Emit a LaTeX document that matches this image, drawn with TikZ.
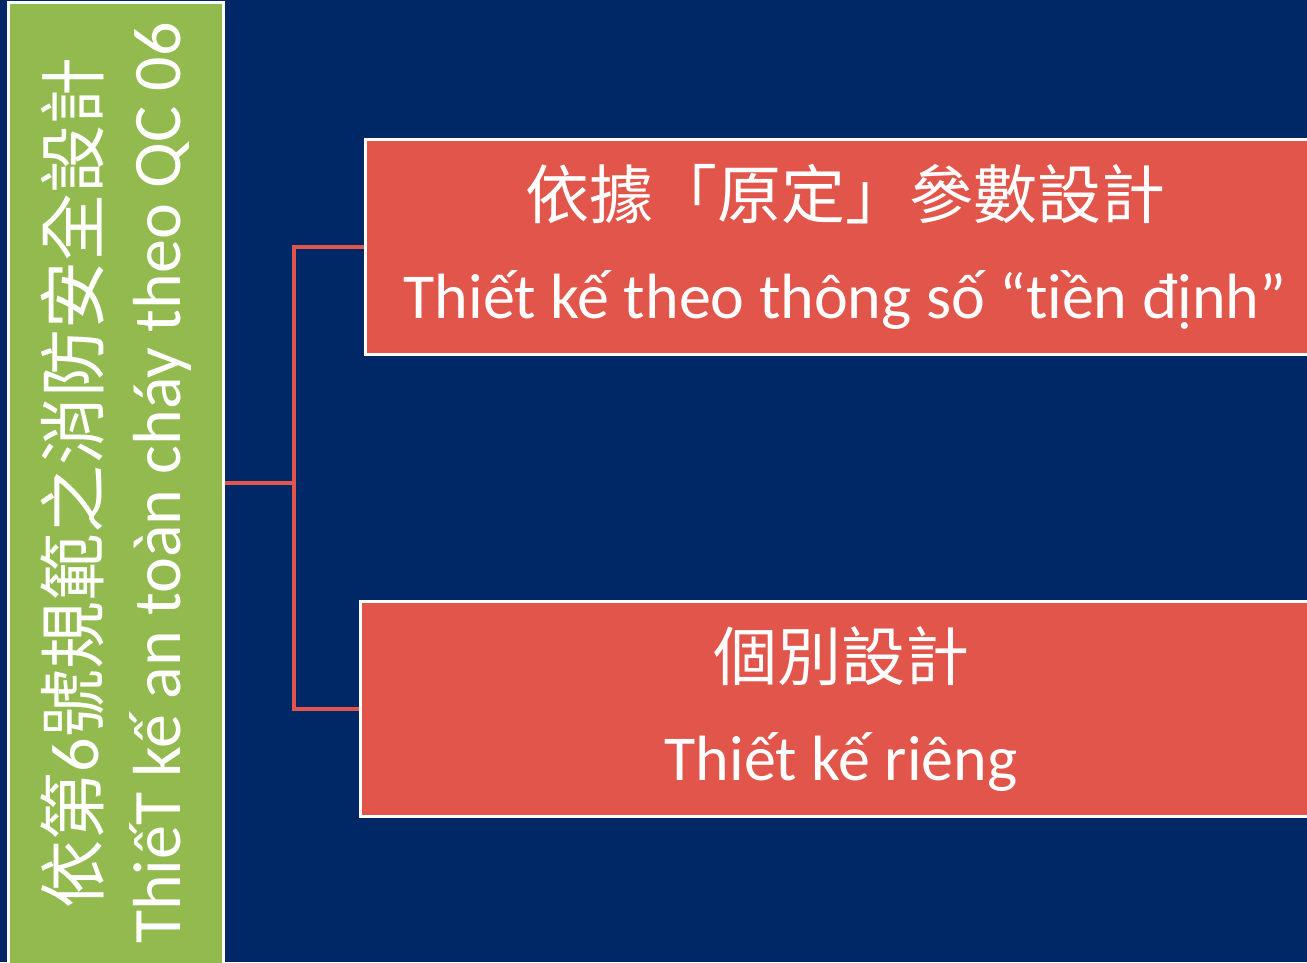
\documentclass[tikz,border=0pt]{standalone}
\usepackage{fontspec}
\setmainfont{Carlito}[Ligatures=NoCommon]
\newfontfamily\cjk{Noto Sans CJK TC}
\usetikzlibrary{positioning}
\definecolor{bgblue}{HTML}{002766}
\definecolor{leafgreen}{HTML}{92BA4E}
\definecolor{brickred}{HTML}{E2554A}

\begin{document}
\begin{tikzpicture}[x=1pt,y=-1pt,
	every node/.style={draw=white,line width=3pt,text=white,align=center,inner sep=0pt},
	sidebox/.style={fill=leafgreen,rotate=90,minimum width=962pt,minimum height=215pt,font=\fontsize{68}{82}\selectfont},
	planbox/.style={fill=brickred,minimum width=960pt,minimum height=215pt,font=\fontsize{64}{100}\selectfont},
	link/.style={brickred,line width=4pt}
	]
	
	% the background
	\useasboundingbox (0,0) rectangle (1307,962);
	\clip (0,0) rectangle (1307,962);
	\fill[bgblue] (0,0) rectangle (1307,962);
	
	% the standard
	\node[sidebox] (side) at (116,483) {{\cjk 依第}6{\cjk 號規範之消防安全設計}\\ThiếT kế an toàn cháy theo QC 06};
	
	% the two ways
	\node[planbox] (fixed) at (845,246.5) {{\cjk 依據「原定」參數設計}\\Thiết kế theo thông số “tiền định”};
	\node[planbox,minimum width=962pt] (own) at (841,708.5) {{\cjk 個別設計}\\Thiết kế riêng};
	
	% the links
	\coordinate (hub) at (294,483);
	\draw[link] (side.south |- hub) -- (hub);
	\draw[link] (fixed.west) -| (hub) |- (own.west);
\end{tikzpicture}
\end{document}
